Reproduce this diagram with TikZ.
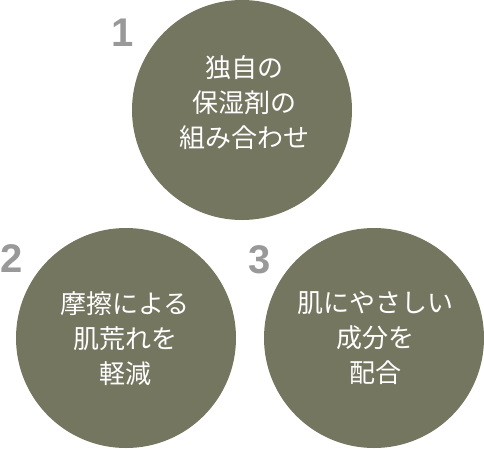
\documentclass[tikz,border=0pt]{standalone}
\usepackage{fontspec}
\newfontfamily\jp{Noto Sans CJK JP}
\newfontfamily\numfont{Liberation Sans}
\definecolor{olive}{RGB}{116,118,96}
\definecolor{numgray}{RGB}{153,153,153}
\begin{document}
\begin{tikzpicture}[x=1pt,y=-1pt,
  disc/.style={circle,fill=olive,draw=none,minimum size=220pt,inner sep=0pt},
  label/.style={text=white,align=center,font={\jp\fontsize{26}{35}\selectfont}},
  num/.style={text=numgray,anchor=base,inner sep=0pt,font={\numfont\bfseries\fontsize{40}{40}\selectfont}}]
\useasboundingbox (0,0) rectangle (484,448);
\node[disc] (c1) at (242,110) {};
\node[disc] (c2) at (126,338) {};
\node[disc] (c3) at (374,338) {};
\node[label] (t1) at (244,103) {独自の\\保湿剤の\\組み合わせ};
\node[label] (t2) at (125,339) {摩擦による\\肌荒れを\\軽減};
\node[label] (t3) at (375,338) {肌にやさしい\\成分を\\配合};
\node[num] (n1) at (123,46) {1};
\node[num] (n2) at (12,272) {2};
\node[num] (n3) at (260,273) {3};
\end{tikzpicture}
\end{document}
